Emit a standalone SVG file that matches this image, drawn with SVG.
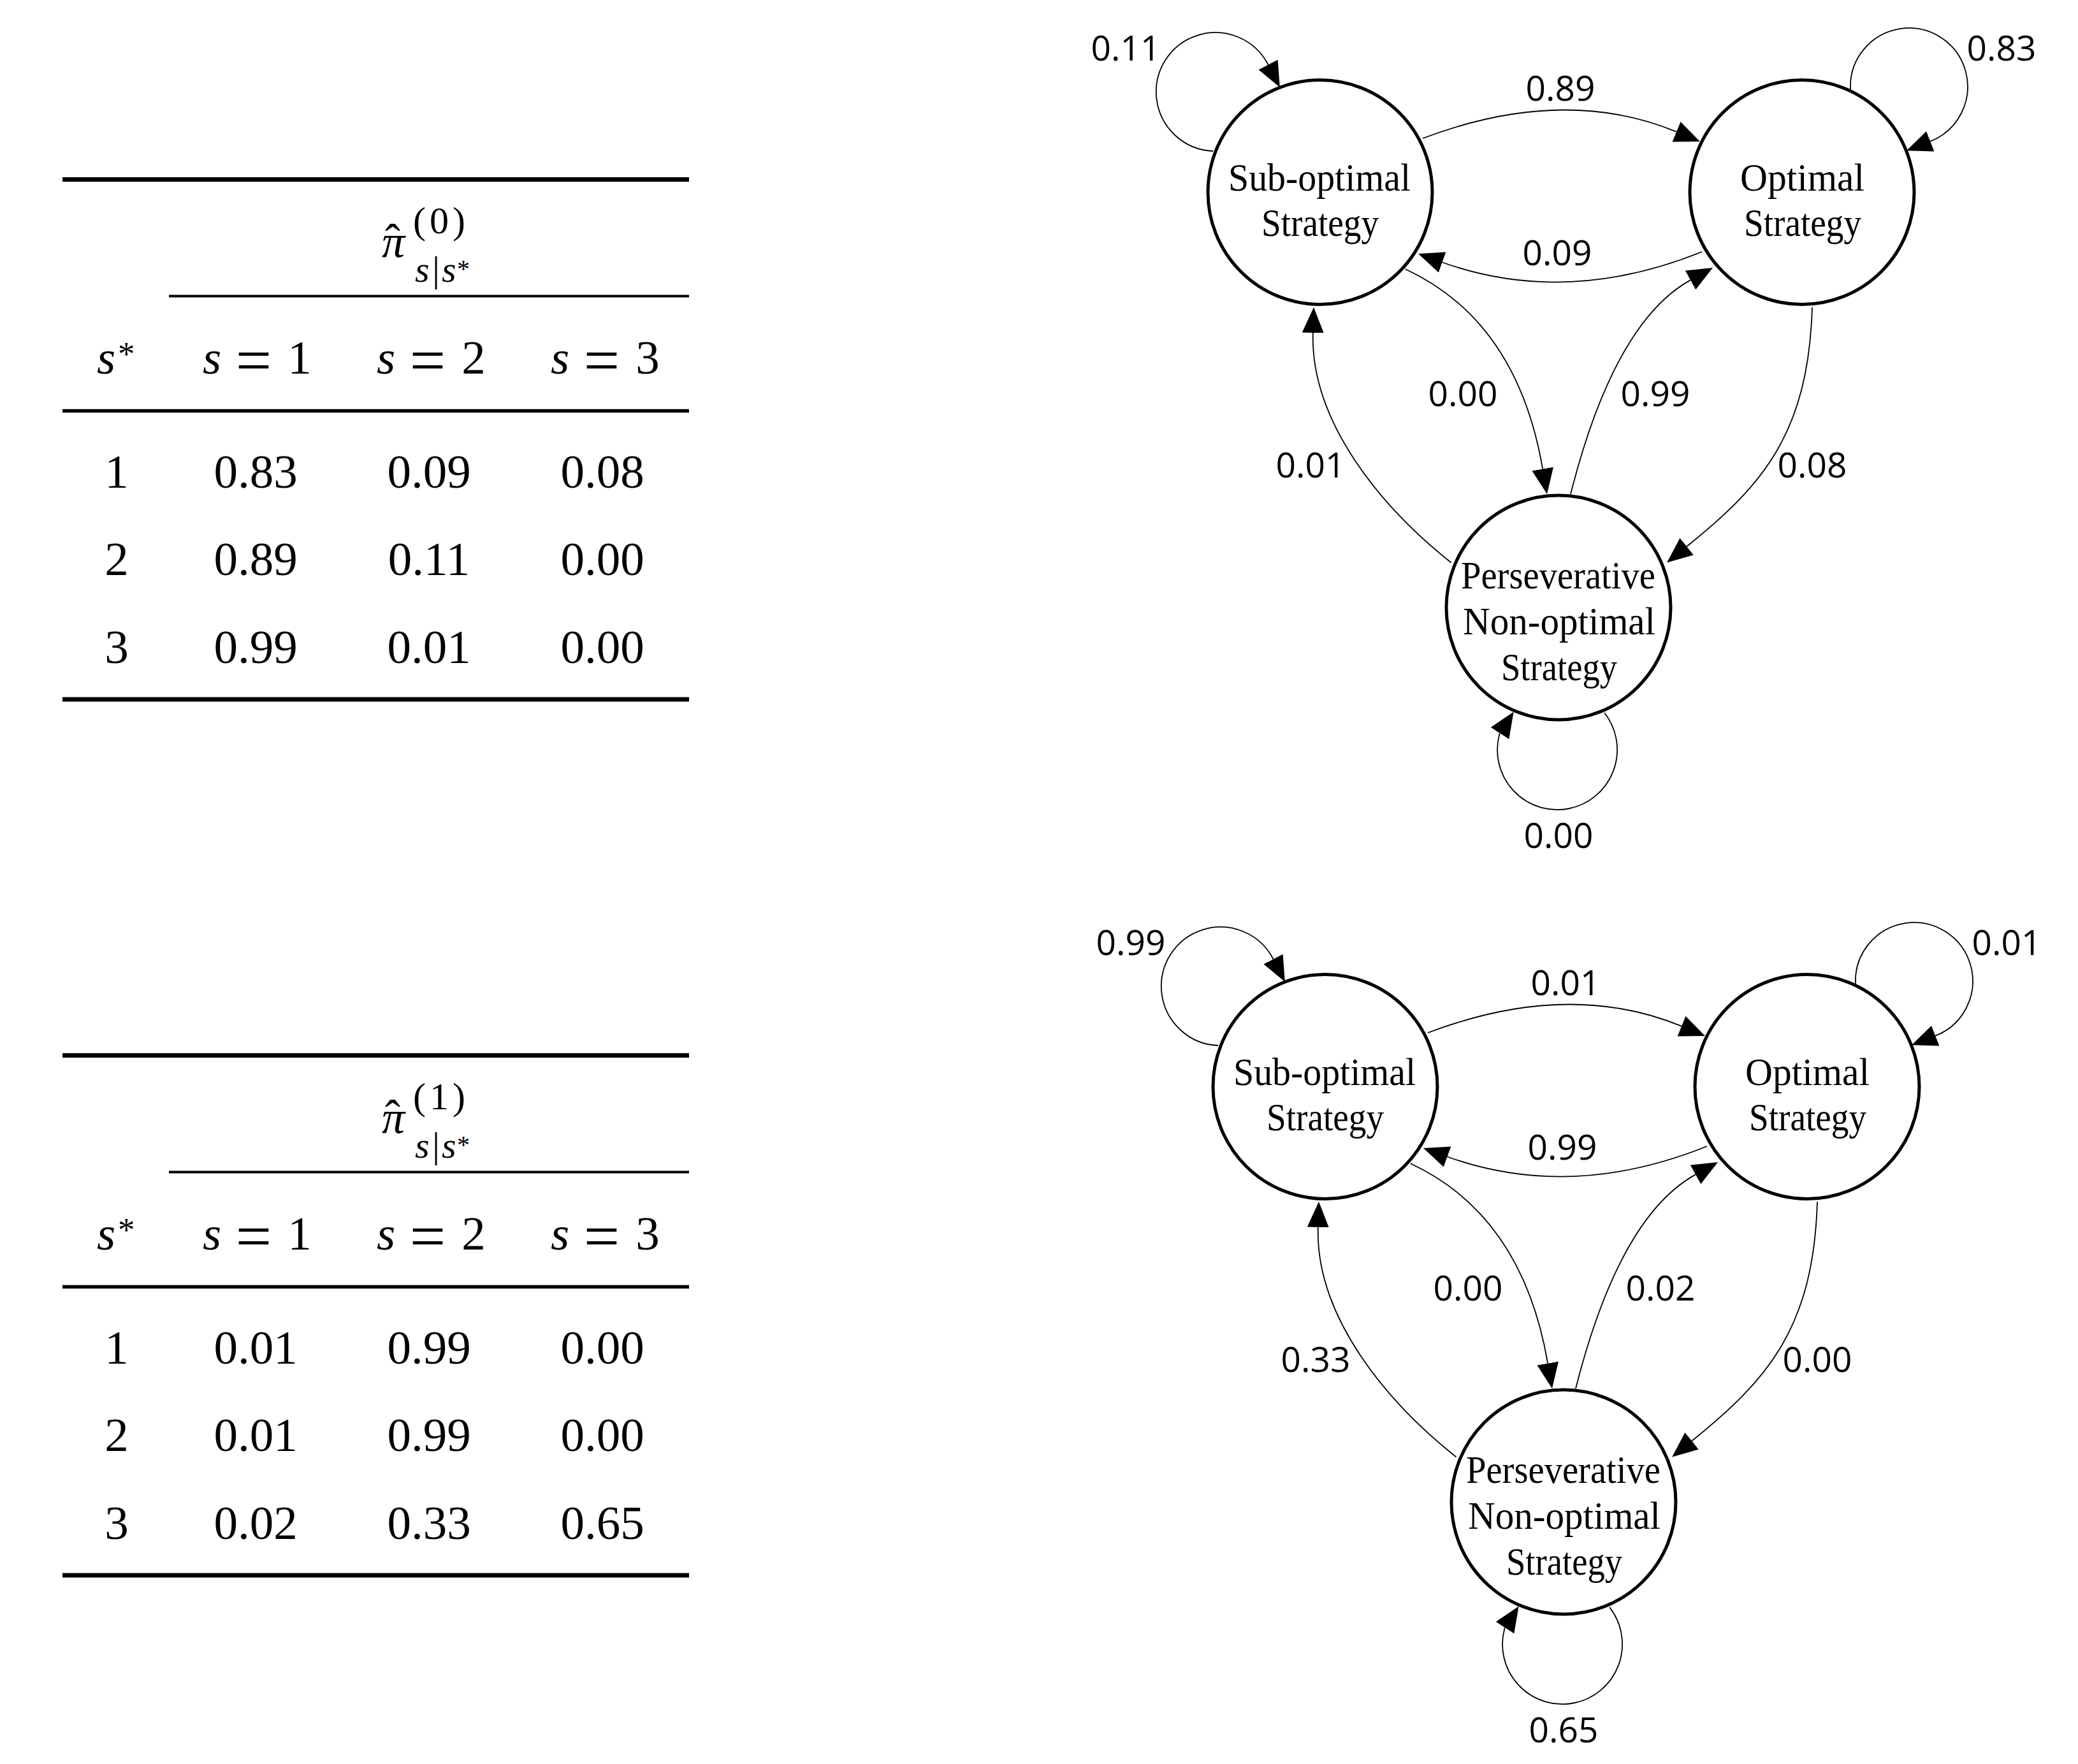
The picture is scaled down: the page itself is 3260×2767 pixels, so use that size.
<svg xmlns="http://www.w3.org/2000/svg" width="3260" height="2767" viewBox="0 0 3260 2767">
<style>
.rule{stroke:#000}
.tn{font-family:"Liberation Serif","Times New Roman",serif;font-size:75px;fill:#000;text-anchor:middle}
.mi{font-family:"Liberation Serif","Times New Roman",serif;font-style:italic;fill:#000}
.up{font-family:"Liberation Serif","Times New Roman",serif;fill:#000}
.hat{font-style:normal}
.eq{font-family:"Liberation Serif","Times New Roman",serif;font-size:100px;fill:#000;text-anchor:middle}
.node{fill:#fff;stroke:#000;stroke-width:5}
.nl{font-family:"Liberation Serif","Times New Roman",serif;font-size:62px;fill:#000}
.edge{fill:none;stroke:#000;stroke-width:1.8;marker-end:url(#ah)}
.el{font-family:"Open Sans","Liberation Sans",sans-serif;font-size:55px;fill:#000;text-anchor:middle}
</style>
<defs>
<marker id="ah" markerUnits="userSpaceOnUse" markerWidth="40" markerHeight="34" viewBox="0 0 40 34" refX="0" refY="17" orient="auto">
<path d="M0,0 L40,17 L0,34 Z" fill="#000"/>
</marker>
</defs>
<rect x="0" y="0" width="3260" height="2767" fill="#fff"/>

<!-- Table 0 -->
<g id="table0">
<line class="rule" x1="98" y1="281.5" x2="1081" y2="281.5" stroke-width="7"/>
<line class="rule" x1="265" y1="464.5" x2="1081" y2="464.5" stroke-width="4"/>
<line class="rule" x1="98" y1="644.5" x2="1081" y2="644.5" stroke-width="5.5"/>
<line class="rule" x1="98" y1="1097" x2="1081" y2="1097" stroke-width="7"/>
<text class="mi" x="617" y="403" font-size="72" text-anchor="middle">π<tspan class="hat" x="616" y="401">ˆ</tspan></text>
<text class="up" x="648" y="366" font-size="60" textLength="82" lengthAdjust="spacing">(0)</text>
<text class="mi" x="651" y="442" font-size="58">s</text>
<text class="up" x="684" y="442" font-size="58" text-anchor="middle">|</text>
<text class="mi" x="693" y="442" font-size="58">s</text>
<text class="up" x="717" y="435" font-size="40">*</text>
<text class="mi" x="152" y="586" font-size="75">s</text>
<text class="up" x="185" y="573" font-size="53">*</text>
<text class="mi" x="318" y="586" font-size="75">s</text>
<text class="eq" x="398" y="599">=</text>
<text class="tn" x="470" y="586">1</text>
<text class="mi" x="591" y="586" font-size="75">s</text>
<text class="eq" x="671" y="599">=</text>
<text class="tn" x="743" y="586">2</text>
<text class="mi" x="864" y="586" font-size="75">s</text>
<text class="eq" x="944" y="599">=</text>
<text class="tn" x="1016" y="586">3</text>
<text class="tn" x="183" y="765">1</text>
<text class="tn" x="401" y="765">0.83</text>
<text class="tn" x="673" y="765">0.09</text>
<text class="tn" x="945" y="765">0.08</text>
<text class="tn" x="183" y="902">2</text>
<text class="tn" x="401" y="902">0.89</text>
<text class="tn" x="673" y="902">0.11</text>
<text class="tn" x="945" y="902">0.00</text>
<text class="tn" x="183" y="1040">3</text>
<text class="tn" x="401" y="1040">0.99</text>
<text class="tn" x="673" y="1040">0.01</text>
<text class="tn" x="945" y="1040">0.00</text>
</g>

<!-- Table 1 -->
<g id="table1" transform="translate(0,1374)">
<line class="rule" x1="98" y1="281.5" x2="1081" y2="281.5" stroke-width="7"/>
<line class="rule" x1="265" y1="464.5" x2="1081" y2="464.5" stroke-width="4"/>
<line class="rule" x1="98" y1="644.5" x2="1081" y2="644.5" stroke-width="5.5"/>
<line class="rule" x1="98" y1="1097" x2="1081" y2="1097" stroke-width="7"/>
<text class="mi" x="617" y="403" font-size="72" text-anchor="middle">π<tspan class="hat" x="616" y="401">ˆ</tspan></text>
<text class="up" x="648" y="366" font-size="60" textLength="82" lengthAdjust="spacing">(1)</text>
<text class="mi" x="651" y="442" font-size="58">s</text>
<text class="up" x="684" y="442" font-size="58" text-anchor="middle">|</text>
<text class="mi" x="693" y="442" font-size="58">s</text>
<text class="up" x="717" y="435" font-size="40">*</text>
<text class="mi" x="152" y="586" font-size="75">s</text>
<text class="up" x="185" y="573" font-size="53">*</text>
<text class="mi" x="318" y="586" font-size="75">s</text>
<text class="eq" x="398" y="599">=</text>
<text class="tn" x="470" y="586">1</text>
<text class="mi" x="591" y="586" font-size="75">s</text>
<text class="eq" x="671" y="599">=</text>
<text class="tn" x="743" y="586">2</text>
<text class="mi" x="864" y="586" font-size="75">s</text>
<text class="eq" x="944" y="599">=</text>
<text class="tn" x="1016" y="586">3</text>
<text class="tn" x="183" y="765">1</text>
<text class="tn" x="401" y="765">0.01</text>
<text class="tn" x="673" y="765">0.99</text>
<text class="tn" x="945" y="765">0.00</text>
<text class="tn" x="183" y="902">2</text>
<text class="tn" x="401" y="902">0.01</text>
<text class="tn" x="673" y="902">0.99</text>
<text class="tn" x="945" y="902">0.00</text>
<text class="tn" x="183" y="1040">3</text>
<text class="tn" x="401" y="1040">0.02</text>
<text class="tn" x="673" y="1040">0.33</text>
<text class="tn" x="945" y="1040">0.65</text>
</g>

<!-- Diagram 0 -->
<g id="diagram0">
<g id="connectors0">
<path class="edge" d="M2232,217 Q2452.5,133.5 2630,206.7"/>
<path class="edge" d="M2670,395 Q2456,481 2262.6,411.5"/>
<path class="edge" d="M2204.6,422 Q2380.2,503.5 2420.2,735.6"/>
<path class="edge" d="M2464,775 Q2532.5,505.5 2652,439.4"/>
<path class="edge" d="M2276.5,882.5 C2167.3,795.7 2055.6,662 2059.8,522"/>
<path class="edge" d="M2843,482 C2837,682 2763.2,762.8 2646.2,857.3"/>
<path class="edge" d="M1903,237 A93,93 0 1 1 1989.5,101.5"/>
<path class="edge" d="M2903,140 A92,92 0 1 1 3028.3,221.7"/>
<path class="edge" d="M2517,1118 A94,94 0 1 1 2352.5,1151 l0.54,-0.84"/>
<text class="el" x="1766" y="95">0.11</text>
<text class="el" x="3140" y="95">0.83</text>
<text class="el" x="2448" y="158">0.89</text>
<text class="el" x="2443" y="416">0.09</text>
<text class="el" x="2295" y="637">0.00</text>
<text class="el" x="2597" y="637">0.99</text>
<text class="el" x="2056" y="749">0.01</text>
<text class="el" x="2843" y="749">0.08</text>
<text class="el" x="2445" y="1330">0.00</text>
</g>
<g id="sub0">
<circle class="node" cx="2071" cy="301.5" r="176"/>
<text class="nl" x="1927" y="299" textLength="286" lengthAdjust="spacingAndGlyphs">Sub-optimal</text>
<text class="nl" x="1979" y="370" textLength="184" lengthAdjust="spacingAndGlyphs">Strategy</text>
</g>
<g id="opt0">
<circle class="node" cx="2827" cy="301.5" r="176"/>
<text class="nl" x="2730" y="299" textLength="195" lengthAdjust="spacingAndGlyphs">Optimal</text>
<text class="nl" x="2736" y="370" textLength="184" lengthAdjust="spacingAndGlyphs">Strategy</text>
</g>
<g id="pers0">
<circle class="node" cx="2445" cy="953" r="176"/>
<text class="nl" x="2292" y="923" textLength="305" lengthAdjust="spacingAndGlyphs">Perseverative</text>
<text class="nl" x="2295" y="995" textLength="302" lengthAdjust="spacingAndGlyphs">Non-optimal</text>
<text class="nl" x="2355" y="1067" textLength="182" lengthAdjust="spacingAndGlyphs">Strategy</text>
</g>
</g>

<!-- Diagram 1 -->
<g id="diagram1" transform="translate(8,1403)">
<g id="connectors1">
<path class="edge" d="M2232,217 Q2452.5,133.5 2630,206.7"/>
<path class="edge" d="M2670,395 Q2456,481 2262.6,411.5"/>
<path class="edge" d="M2204.6,422 Q2380.2,503.5 2420.2,735.6"/>
<path class="edge" d="M2464,775 Q2532.5,505.5 2652,439.4"/>
<path class="edge" d="M2276.5,882.5 C2167.3,795.7 2055.6,662 2059.8,522"/>
<path class="edge" d="M2843,482 C2837,682 2763.2,762.8 2646.2,857.3"/>
<path class="edge" d="M1903,237 A93,93 0 1 1 1989.5,101.5"/>
<path class="edge" d="M2903,140 A92,92 0 1 1 3028.3,221.7"/>
<path class="edge" d="M2517,1118 A94,94 0 1 1 2352.5,1151 l0.54,-0.84"/>
<text class="el" x="1766" y="95">0.99</text>
<text class="el" x="3140" y="95">0.01</text>
<text class="el" x="2448" y="158">0.01</text>
<text class="el" x="2443" y="416">0.99</text>
<text class="el" x="2295" y="637">0.00</text>
<text class="el" x="2597" y="637">0.02</text>
<text class="el" x="2056" y="749">0.33</text>
<text class="el" x="2843" y="749">0.00</text>
<text class="el" x="2445" y="1330">0.65</text>
</g>
<g id="sub1">
<circle class="node" cx="2071" cy="301.5" r="176"/>
<text class="nl" x="1927" y="299" textLength="286" lengthAdjust="spacingAndGlyphs">Sub-optimal</text>
<text class="nl" x="1979" y="370" textLength="184" lengthAdjust="spacingAndGlyphs">Strategy</text>
</g>
<g id="opt1">
<circle class="node" cx="2827" cy="301.5" r="176"/>
<text class="nl" x="2730" y="299" textLength="195" lengthAdjust="spacingAndGlyphs">Optimal</text>
<text class="nl" x="2736" y="370" textLength="184" lengthAdjust="spacingAndGlyphs">Strategy</text>
</g>
<g id="pers1">
<circle class="node" cx="2445" cy="953" r="176"/>
<text class="nl" x="2292" y="923" textLength="305" lengthAdjust="spacingAndGlyphs">Perseverative</text>
<text class="nl" x="2295" y="995" textLength="302" lengthAdjust="spacingAndGlyphs">Non-optimal</text>
<text class="nl" x="2355" y="1067" textLength="182" lengthAdjust="spacingAndGlyphs">Strategy</text>
</g>
</g>
</svg>
